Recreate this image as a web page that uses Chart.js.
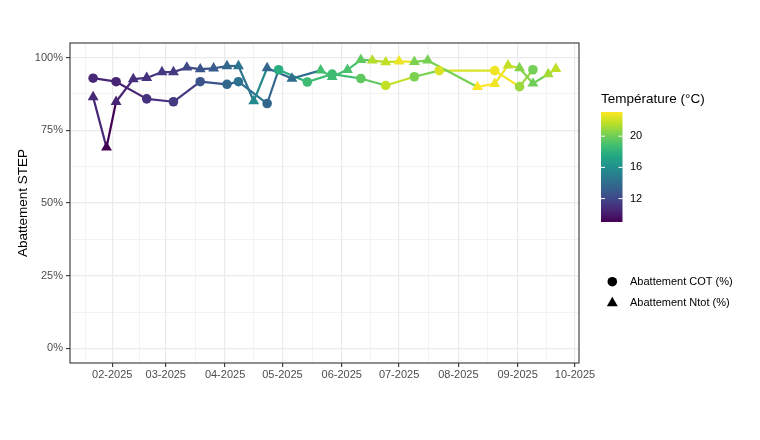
<!DOCTYPE html>
<html><head><meta charset="utf-8">
<script src="https://cdn.jsdelivr.net/npm/chart.js@4.4.1/dist/chart.umd.min.js"></script>
<style>html,body{margin:0;padding:0;background:#fff}#wrap{width:760px;height:440px}</style>
</head><body><div id="wrap"><canvas id="c" width="760" height="440"></canvas></div>
<script>
// ---- data ----
const cotDates = ["2025-01-22","2025-02-03","2025-02-19","2025-03-05","2025-03-19","2025-04-02","2025-04-08","2025-04-23","2025-04-29","2025-05-14","2025-05-27","2025-06-11","2025-06-24","2025-07-09","2025-07-22","2025-08-20","2025-09-02","2025-09-09"];
const cotValues = [92.9,91.7,85.8,84.8,91.7,90.8,91.7,84.2,95.8,91.6,94.3,92.8,90.4,93.4,95.5,95.5,90.0,95.8];
const cotTemps = [10.6,10.4,11.0,11.4,12.6,13.6,14.3,13.6,17.8,18.6,18.7,19.6,21.8,20.3,22.3,22.8,21.0,20.1];

const ntotDates = ["2025-01-22","2025-01-29","2025-02-03","2025-02-12","2025-02-19","2025-02-27","2025-03-05","2025-03-12","2025-03-19","2025-03-26","2025-04-02","2025-04-08","2025-04-16","2025-04-23","2025-05-06","2025-05-21","2025-05-27","2025-06-04","2025-06-11","2025-06-17","2025-06-24","2025-07-01","2025-07-09","2025-07-16","2025-08-11","2025-08-20","2025-08-27","2025-09-02","2025-09-09","2025-09-17","2025-09-21"];
const ntotValues = [86.4,69.1,84.8,92.6,93.0,95.0,95.0,96.6,96.0,96.3,97.1,97.1,85.0,96.4,92.8,95.6,93.4,95.8,99.2,99.0,98.4,98.7,98.5,99.0,89.9,91.0,97.3,96.4,91.1,94.3,96.1];
const ntotTemps = [10.6,9.0,10.4,10.9,11.0,11.4,11.4,12.1,12.6,13.0,13.6,14.3,15.6,13.6,14.0,18.8,18.7,19.0,19.6,21.5,21.8,22.7,20.3,20.2,23.1,22.8,21.8,20.5,20.0,21.2,21.7];

const monthTicks = ["2025-02-01","2025-03-01","2025-04-01","2025-05-01","2025-06-01","2025-07-01","2025-08-01","2025-09-01","2025-10-01"];
const monthLabels = ["02-2025","03-2025","04-2025","05-2025","06-2025","07-2025","08-2025","09-2025","10-2025"];
const yTicks = [0,25,50,75,100];
const yLimits = [0,100];
const colorbarTicks = [12,16,20];
const yTitle = "Abattement STEP";
const legendTitle = "Température (°C)";
const seriesNames = ["Abattement COT (%)","Abattement Ntot (%)"];

// ---- helpers ----
const FONT = "'Liberation Sans', Arial, Helvetica, sans-serif";
const DAY = 86400000;
const EPOCH = Date.UTC(2025,0,1);
function dayNum(s){const [y,m,d]=s.split('-').map(Number);return (Date.UTC(y,m-1,d)-EPOCH)/DAY;}
const VIR = ['#440154','#482475','#414487','#355f8d','#2a788e','#21918c','#22a884','#44bf70','#7ad151','#bddf26','#fde725'];
function hex(h){return [parseInt(h.slice(1,3),16),parseInt(h.slice(3,5),16),parseInt(h.slice(5,7),16)];}
function viridisT(t){t=Math.max(0,Math.min(1,t));const n=VIR.length-1;const i=Math.min(n-1,Math.floor(t*n));const f=t*n-i;const a=hex(VIR[i]),b=hex(VIR[i+1]);
  return 'rgb('+a.map((v,k)=>Math.round(v+(b[k]-v)*f)).join(',')+')';}
const allTemps = cotTemps.concat(ntotTemps);
const tMin = Math.min(...allTemps), tMax = Math.max(...allTemps);
function tempColor(T){return viridisT((T-tMin)/(tMax-tMin));}

const allX = cotDates.concat(ntotDates).map(dayNum);
const dxMin = Math.min(...allX), dxMax = Math.max(...allX);
const xExp = (dxMax-dxMin)*0.05;
const xMin = dxMin-xExp, xMax = dxMax+xExp;
const yExp = (yLimits[1]-yLimits[0])*0.05;

const majorX = monthTicks.map(dayNum);
const minorX = [];
for(let i=0;i<majorX.length-1;i++) minorX.push((majorX[i]+majorX[i+1])/2);
minorX.unshift(majorX[0]-(majorX[1]-majorX[0])/2);
const xTickVals = minorX.concat(majorX).filter(v=>v>=xMin&&v<=xMax).sort((a,b)=>a-b);
const minorY = [];
for(let i=0;i<yTicks.length-1;i++) minorY.push((yTicks[i]+yTicks[i+1])/2);
const yTickVals = yTicks.concat(minorY).sort((a,b)=>a-b);
const isMajX = v => majorX.some(m=>Math.abs(m-v)<1e-6);
const isMajY = v => yTicks.some(m=>Math.abs(m-v)<1e-6);

const cotPts = cotDates.map((d,i)=>({x:dayNum(d),y:cotValues[i]}));
const ntotPts = ntotDates.map((d,i)=>({x:dayNum(d),y:ntotValues[i]}));

const decor = {
  id:'decor',
  beforeDraw(chart){const c=chart.ctx;c.save();c.fillStyle='#fff';c.fillRect(0,0,chart.width,chart.height);c.restore();},
  afterDraw(chart){
    const c=chart.ctx, a=chart.chartArea;
    c.save();
    c.strokeStyle='#333333';c.lineWidth=1.1;
    c.strokeRect(a.left,a.top,a.right-a.left,a.bottom-a.top);
    c.fillStyle='#000';c.font='13.5px '+FONT;c.textAlign='center';c.textBaseline='middle';
    c.translate(23,(a.top+a.bottom)/2);c.rotate(-Math.PI/2);c.fillText(yTitle,0,0);
    c.restore();
    c.save();
    c.fillStyle='#000';c.font='13.5px '+FONT;c.textAlign='left';c.textBaseline='middle';
    c.fillText(legendTitle,601,99);
    const bx=601,bw=21.5,bt=112,bb=222;
    const g=c.createLinearGradient(0,bb,0,bt);
    VIR.forEach((col,i)=>g.addColorStop(i/(VIR.length-1),col));
    c.fillStyle=g;c.fillRect(bx,bt,bw,bb-bt);
    c.strokeStyle='#fff';c.lineWidth=1;c.font='11px '+FONT;c.fillStyle='#000';
    colorbarTicks.forEach(T=>{
      const y=bb-(T-tMin)/(tMax-tMin)*(bb-bt);
      c.beginPath();c.moveTo(bx,y);c.lineTo(bx+4,y);c.moveTo(bx+bw-4,y);c.lineTo(bx+bw,y);c.stroke();
      c.fillText(String(T),630,y);
    });
    c.fillStyle='#000';
    c.beginPath();c.arc(612.3,281.7,4.8,0,Math.PI*2);c.fill();
    const r=6.3,tx=612.3,ty=303;
    c.beginPath();
    for(let k=0;k<3;k++){const ang=k*2*Math.PI/3;const px=tx+Math.sin(ang)*r,py=ty-Math.cos(ang)*r;k?c.lineTo(px,py):c.moveTo(px,py);}
    c.closePath();c.fill();
    c.font='11px '+FONT;
    c.fillText(seriesNames[0],630,282);
    c.fillText(seriesNames[1],630,303);
    c.restore();
  }
};

new Chart(document.getElementById('c'),{
  type:'line',
  data:{datasets:[
    {label:seriesNames[0]+' line',data:cotPts,showLine:true,pointRadius:0,borderWidth:2.2,tension:0,
      segment:{borderColor:ctx=>tempColor(cotTemps[ctx.p0DataIndex])},order:4},
    {label:seriesNames[1]+' line',data:ntotPts,showLine:true,pointRadius:0,borderWidth:2.2,tension:0,
      segment:{borderColor:ctx=>tempColor(ntotTemps[ctx.p0DataIndex])},order:3},
    {label:seriesNames[1],data:ntotPts,showLine:false,pointStyle:'triangle',pointRadius:6.3,pointBorderWidth:0,
      pointBackgroundColor:ntotTemps.map(tempColor),pointBorderColor:ntotTemps.map(tempColor),order:2},
    {label:seriesNames[0],data:cotPts,showLine:false,pointStyle:'circle',pointRadius:4.8,pointBorderWidth:0,
      pointBackgroundColor:cotTemps.map(tempColor),pointBorderColor:cotTemps.map(tempColor),order:1}
  ]},
  options:{
    responsive:false,animation:false,events:[],
    layout:{padding:{left:0,top:43,right:181,bottom:0}},
    plugins:{legend:{display:false},tooltip:{enabled:false}},
    scales:{
      x:{type:'linear',min:xMin,max:xMax,
        afterBuildTicks:s=>{s.ticks=xTickVals.map(v=>({value:v}));},
        afterFit:s=>{s.height=77;},
        ticks:{autoSkip:false,maxRotation:0,minRotation:0,padding:1,color:'#4D4D4D',font:{family:FONT,size:11},
          callback:v=>{const i=majorX.findIndex(m=>Math.abs(m-v)<1e-6);return i>=0?monthLabels[i]:'';}},
        grid:{color:'#EBEBEB',lineWidth:ctx=>(ctx.tick&&isMajX(ctx.tick.value))?1.2:0.6,drawTicks:true,tickLength:4,
          tickColor:ctx=>(ctx.tick&&isMajX(ctx.tick.value))?'#333333':'rgba(0,0,0,0)',tickWidth:1.1},
        border:{display:false}},
      y:{type:'linear',min:yLimits[0]-yExp,max:yLimits[1]+yExp,
        afterBuildTicks:s=>{s.ticks=yTickVals.map(v=>({value:v}));},
        afterFit:s=>{s.width=70;},
        ticks:{autoSkip:false,padding:3,color:'#4D4D4D',font:{family:FONT,size:11},
          callback:v=>isMajY(v)?v+'%':''},
        grid:{color:'#EBEBEB',lineWidth:ctx=>(ctx.tick&&isMajY(ctx.tick.value))?1.2:0.6,drawTicks:true,tickLength:4,
          tickColor:ctx=>(ctx.tick&&isMajY(ctx.tick.value))?'#333333':'rgba(0,0,0,0)',tickWidth:1.1},
        border:{display:false}}
    }
  },
  plugins:[decor]
});
</script></body></html>
